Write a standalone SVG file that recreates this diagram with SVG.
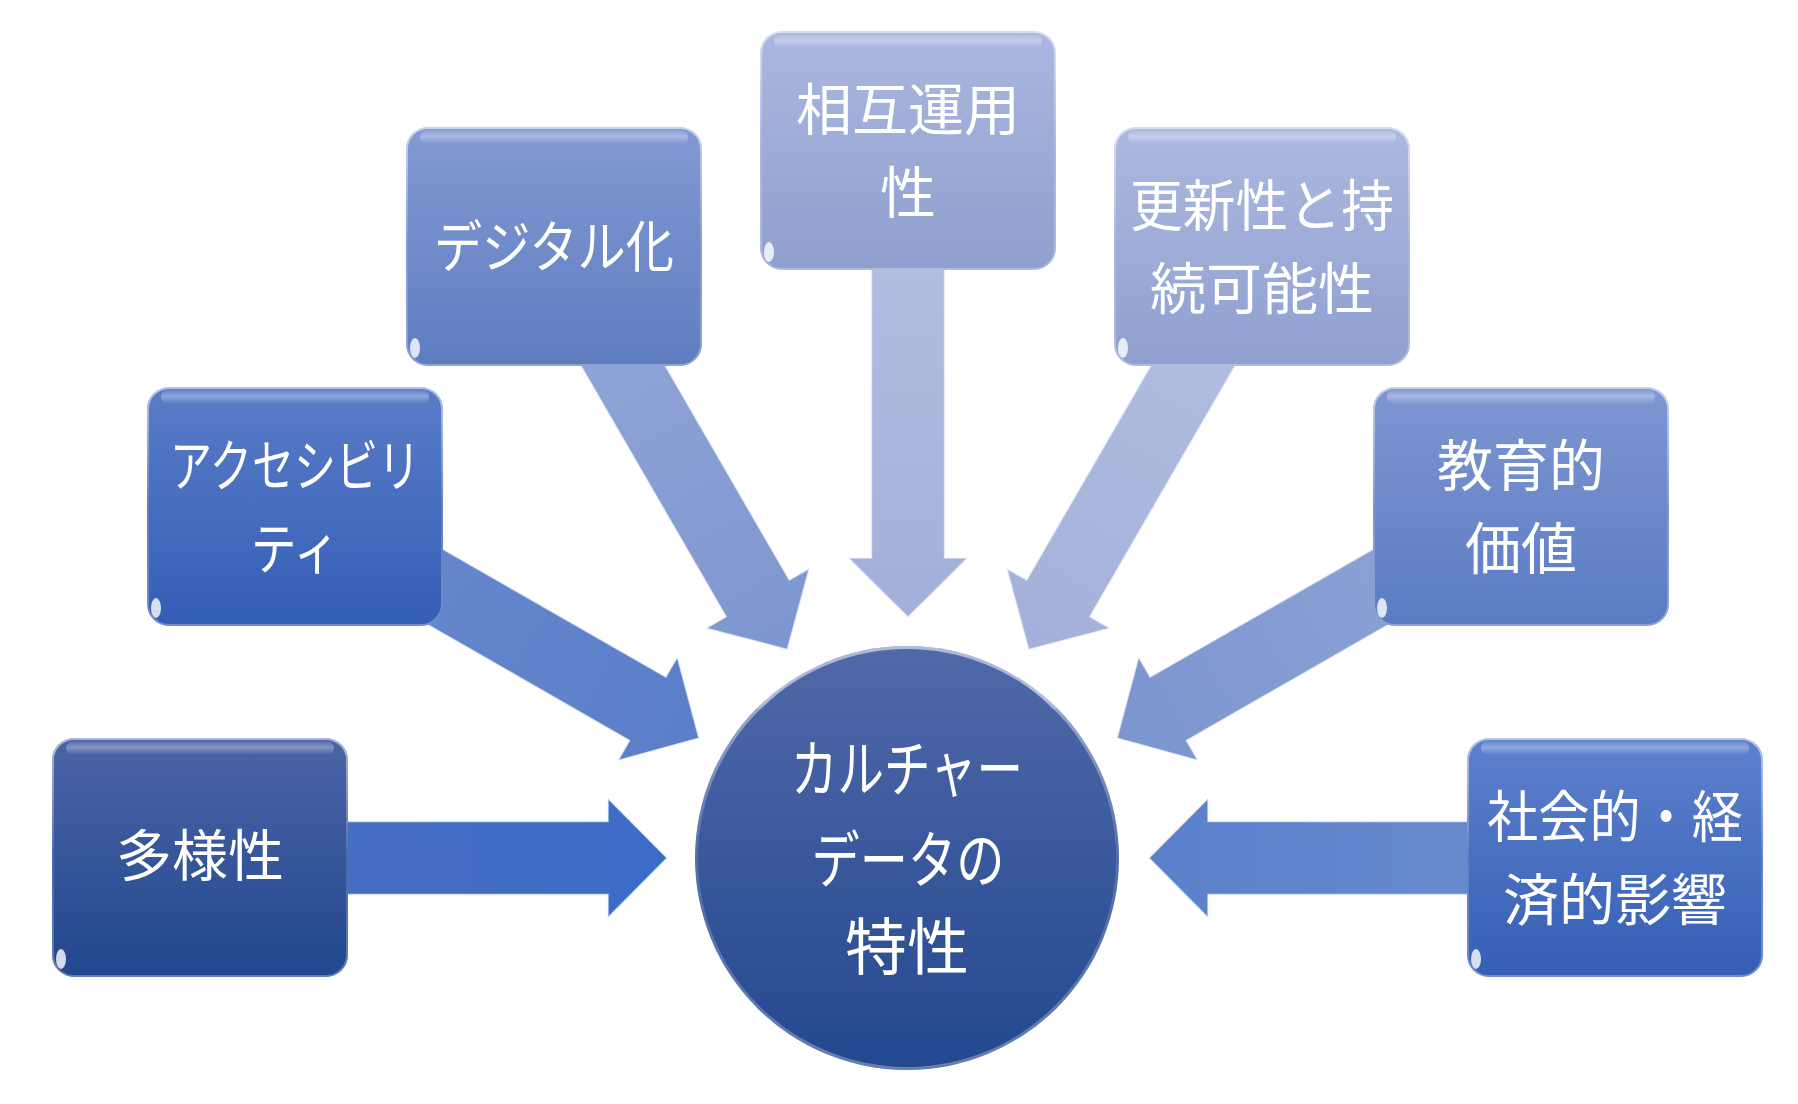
<svg xmlns="http://www.w3.org/2000/svg" xmlns:xlink="http://www.w3.org/1999/xlink" width="1798" height="1104" viewBox="0 0 1798 1104">
<style>
.lbl{font-family:"Noto Sans CJK JP","Noto Sans CJK SC",sans-serif;fill:#ffffff;text-anchor:middle;font-size:56px}
.big{font-size:62px}
.arr{stroke:#eef2fb;stroke-opacity:0.7;stroke-width:1.5;stroke-linejoin:miter}
.rim{fill:none;stroke:url(#rimg);stroke-width:2}
.top{fill:url(#topg)}
.glint{fill:#ffffff;fill-opacity:0.8}
</style>
<defs>
<path id="arrow" d="M-466,-36.5 L-59,-36.5 L-59,-59.5 L0,0 L-59,59.5 L-59,36.5 L-466,36.5 Z"/>
<linearGradient id="rimg" x1="0" y1="0" x2="0" y2="1">
<stop offset="0" stop-color="#ffffff" stop-opacity="0.55"/>
<stop offset="0.5" stop-color="#ffffff" stop-opacity="0.12"/>
<stop offset="1" stop-color="#ffffff" stop-opacity="0.3"/>
</linearGradient>
<linearGradient id="topg" x1="0" y1="0" x2="0" y2="1">
<stop offset="0" stop-color="#ffffff" stop-opacity="0.05"/>
<stop offset="0.45" stop-color="#ffffff" stop-opacity="0.32"/>
<stop offset="1" stop-color="#ffffff" stop-opacity="0"/>
</linearGradient>
<linearGradient id="ga1" x1="0" y1="0" x2="1" y2="0"><stop offset="0" stop-color="#4a6fc0"/><stop offset="1" stop-color="#3d6bc6"/></linearGradient>
<linearGradient id="ga2" x1="0" y1="0" x2="1" y2="0"><stop offset="0" stop-color="#6a8ace"/><stop offset="1" stop-color="#5a7ec8"/></linearGradient>
<linearGradient id="ga3" x1="0" y1="0" x2="1" y2="0"><stop offset="0" stop-color="#94a8d9"/><stop offset="1" stop-color="#7e96cf"/></linearGradient>
<linearGradient id="ga4" x1="0" y1="0" x2="1" y2="0"><stop offset="0" stop-color="#b5c0e2"/><stop offset="1" stop-color="#a2b0da"/></linearGradient>
<linearGradient id="ga5" x1="0" y1="0" x2="1" y2="0"><stop offset="0" stop-color="#b4bfe2"/><stop offset="1" stop-color="#a3b1da"/></linearGradient>
<linearGradient id="ga6" x1="0" y1="0" x2="1" y2="0"><stop offset="0" stop-color="#92a6d8"/><stop offset="1" stop-color="#7c95cf"/></linearGradient>
<linearGradient id="ga7" x1="0" y1="0" x2="1" y2="0"><stop offset="0" stop-color="#6d8fd1"/><stop offset="1" stop-color="#5b80cb"/></linearGradient>
<linearGradient id="gb1" x1="0" y1="0" x2="0" y2="1"><stop offset="0" stop-color="#4b65a5"/><stop offset="1" stop-color="#21478e"/></linearGradient>
<linearGradient id="gb2" x1="0" y1="0" x2="0" y2="1"><stop offset="0" stop-color="#5b7cc8"/><stop offset="1" stop-color="#335eb5"/></linearGradient>
<linearGradient id="gb3" x1="0" y1="0" x2="0" y2="1"><stop offset="0" stop-color="#839ad4"/><stop offset="1" stop-color="#5e7dc0"/></linearGradient>
<linearGradient id="gb4" x1="0" y1="0" x2="0" y2="1"><stop offset="0" stop-color="#abb7df"/><stop offset="1" stop-color="#8e9fcf"/></linearGradient>
<linearGradient id="gb5" x1="0" y1="0" x2="0" y2="1"><stop offset="0" stop-color="#acb8df"/><stop offset="1" stop-color="#8fa0d0"/></linearGradient>
<linearGradient id="gb6" x1="0" y1="0" x2="0" y2="1"><stop offset="0" stop-color="#7f97d2"/><stop offset="1" stop-color="#5a7bc3"/></linearGradient>
<linearGradient id="gb7" x1="0" y1="0" x2="0" y2="1"><stop offset="0" stop-color="#5e81cc"/><stop offset="1" stop-color="#345eb5"/></linearGradient>
<linearGradient id="gc" x1="0" y1="0" x2="0" y2="1"><stop offset="0" stop-color="#5069a9"/><stop offset="1" stop-color="#23488f"/></linearGradient>
</defs>

<g id="connectors">
<use xlink:href="#arrow" class="arr" fill="url(#ga1)" transform="translate(667,858)"/>
<use xlink:href="#arrow" class="arr" fill="url(#ga2)" transform="translate(698.9,738.1) rotate(29.83)"/>
<use xlink:href="#arrow" class="arr" fill="url(#ga3)" transform="translate(787.3,649.4) rotate(59.93)"/>
<use xlink:href="#arrow" class="arr" fill="url(#ga4)" transform="translate(908,617) rotate(90)"/>
<use xlink:href="#arrow" class="arr" fill="url(#ga5)" transform="translate(1028.7,649.4) rotate(120.07)"/>
<use xlink:href="#arrow" class="arr" fill="url(#ga6)" transform="translate(1117.1,738.1) rotate(150.17)"/>
<use xlink:href="#arrow" class="arr" fill="url(#ga7)" transform="translate(1149,858) rotate(180)"/>
</g>

<g id="node-center">
<circle cx="907" cy="858" r="212" fill="url(#gc)"/>
<circle cx="907" cy="858" r="210.5" fill="none" stroke="url(#rimg)" stroke-width="3"/>
<path d="M760,706 A200,200 0 0 1 1054,706" fill="none" stroke="#ffffff" stroke-opacity="0.2" stroke-width="7" stroke-linecap="round"/>
<text class="lbl big" x="907" y="792" textLength="232" lengthAdjust="spacingAndGlyphs">カルチャー</text>
<text class="lbl big" x="908" y="883" textLength="193" lengthAdjust="spacingAndGlyphs">データの</text>
<text class="lbl big" x="907" y="970">特性</text>
</g>

<g id="node-diversity" transform="translate(52,738)">
<rect width="296" height="239" rx="22" fill="url(#gb1)"/>
<rect x="1" y="1" width="294" height="237" rx="21" class="rim"/>
<rect x="14" y="3" width="268" height="14" rx="7" class="top"/>
<ellipse cx="9" cy="221" rx="5" ry="10" class="glint"/>
<text class="lbl" x="148" y="138">多様性</text>
</g>

<g id="node-accessibility" transform="translate(147,387)">
<rect width="296" height="239" rx="22" fill="url(#gb2)"/>
<rect x="1" y="1" width="294" height="237" rx="21" class="rim"/>
<rect x="14" y="3" width="268" height="14" rx="7" class="top"/>
<ellipse cx="9" cy="221" rx="5" ry="10" class="glint"/>
<text class="lbl" x="148" y="99" textLength="250" lengthAdjust="spacingAndGlyphs">アクセシビリ</text>
<text class="lbl" x="148" y="182" textLength="88" lengthAdjust="spacingAndGlyphs">ティ</text>
</g>

<g id="node-digital" transform="translate(406,127)">
<rect width="296" height="239" rx="22" fill="url(#gb3)"/>
<rect x="1" y="1" width="294" height="237" rx="21" class="rim"/>
<rect x="14" y="3" width="268" height="14" rx="7" class="top"/>
<ellipse cx="9" cy="221" rx="5" ry="10" class="glint"/>
<text class="lbl" x="148" y="140" textLength="240" lengthAdjust="spacingAndGlyphs">デジタル化</text>
</g>

<g id="node-interop" transform="translate(760,31)">
<rect width="296" height="239" rx="22" fill="url(#gb4)"/>
<rect x="1" y="1" width="294" height="237" rx="21" class="rim"/>
<rect x="14" y="3" width="268" height="14" rx="7" class="top"/>
<ellipse cx="9" cy="221" rx="5" ry="10" class="glint"/>
<text class="lbl" x="148" y="99">相互運用</text>
<text class="lbl" x="148" y="182">性</text>
</g>

<g id="node-sustain" transform="translate(1114,127)">
<rect width="296" height="239" rx="22" fill="url(#gb5)"/>
<rect x="1" y="1" width="294" height="237" rx="21" class="rim"/>
<rect x="14" y="3" width="268" height="14" rx="7" class="top"/>
<ellipse cx="9" cy="221" rx="5" ry="10" class="glint"/>
<text class="lbl" x="148" y="99" textLength="264" lengthAdjust="spacingAndGlyphs">更新性と持</text>
<text class="lbl" x="148" y="182">続可能性</text>
</g>

<g id="node-education" transform="translate(1373,387)">
<rect width="296" height="239" rx="22" fill="url(#gb6)"/>
<rect x="1" y="1" width="294" height="237" rx="21" class="rim"/>
<rect x="14" y="3" width="268" height="14" rx="7" class="top"/>
<ellipse cx="9" cy="221" rx="5" ry="10" class="glint"/>
<text class="lbl" x="148" y="99">教育的</text>
<text class="lbl" x="148" y="182">価値</text>
</g>

<g id="node-socioeco" transform="translate(1467,738)">
<rect width="296" height="239" rx="22" fill="url(#gb7)"/>
<rect x="1" y="1" width="294" height="237" rx="21" class="rim"/>
<rect x="14" y="3" width="268" height="14" rx="7" class="top"/>
<ellipse cx="9" cy="221" rx="5" ry="10" class="glint"/>
<text class="lbl" x="148" y="99" textLength="256" lengthAdjust="spacingAndGlyphs">社会的・経</text>
<text class="lbl" x="148" y="182">済的影響</text>
</g>
</svg>
